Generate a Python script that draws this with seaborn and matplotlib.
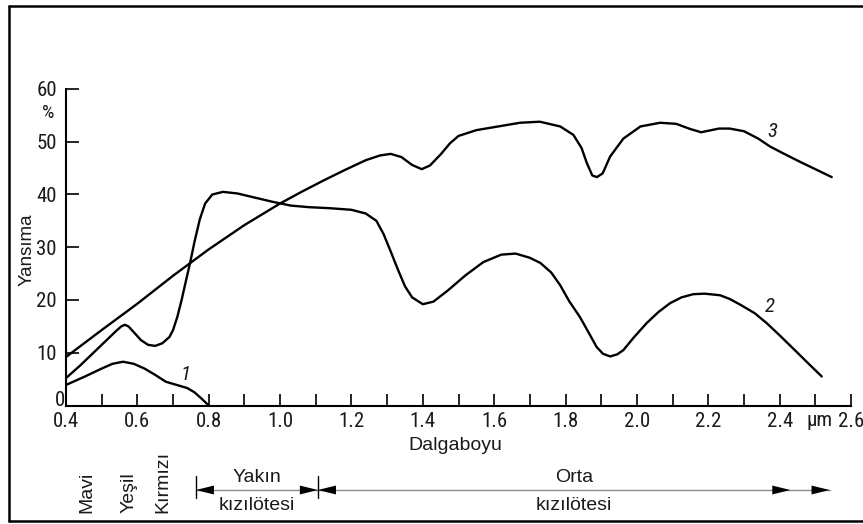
import matplotlib
matplotlib.use("Agg")
import matplotlib.pyplot as plt
import matplotlib.transforms as mtransforms
from matplotlib import font_manager
from matplotlib.font_manager import FontProperties
from matplotlib.lines import Line2D
import seaborn as sns
import pandas as pd

# Spectral reflectance curves (wavelength in µm, reflectance in %)
wl_1 = [0.40, 0.45, 0.50, 0.53, 0.56, 0.59, 0.62, 0.65, 0.68, 0.71, 0.74, 0.76, 0.78, 0.80]
refl_1 = [3.9, 5.4, 7.0, 7.9, 8.3, 7.9, 7.0, 5.8, 4.5, 3.9, 3.3, 2.5, 1.3, 0.0]

wl_2 = [0.40, 0.44, 0.48, 0.52, 0.54, 0.555, 0.565, 0.575, 0.59, 0.61, 0.63, 0.65,
        0.67, 0.69, 0.70, 0.712, 0.724, 0.736, 0.748, 0.76, 0.775, 0.79, 0.81, 0.84,
        0.88, 0.93, 0.98, 1.03, 1.08, 1.14, 1.20, 1.24, 1.27, 1.29, 1.31, 1.33, 1.35,
        1.37, 1.40, 1.43, 1.47, 1.52, 1.57, 1.62, 1.66, 1.70, 1.73, 1.76, 1.785, 1.81,
        1.84, 1.865, 1.887, 1.905, 1.925, 1.945, 1.962, 1.99, 2.027, 2.06, 2.093,
        2.125, 2.158, 2.19, 2.233, 2.26, 2.29, 2.33, 2.364, 2.40, 2.438, 2.48, 2.518]
refl_2 = [5.2, 7.6, 10.2, 12.8, 14.1, 15.0, 15.3, 15.0, 13.9, 12.4, 11.5, 11.3,
          11.8, 13.0, 14.3, 16.8, 20.0, 23.6, 27.1, 31.0, 35.3, 38.3, 40.0, 40.5,
          40.2, 39.4, 38.6, 37.9, 37.6, 37.4, 37.1, 36.4, 35.0, 32.5, 29.2, 25.8, 22.6,
          20.5, 19.2, 19.7, 21.8, 24.7, 27.2, 28.6, 28.8, 28.0, 27.0, 25.2, 22.8, 19.8,
          16.8, 13.8, 11.1, 9.8, 9.3, 9.7, 10.5, 12.8, 15.6, 17.7, 19.4,
          20.5, 21.1, 21.2, 20.9, 20.2, 19.1, 17.5, 15.6, 13.3, 10.8, 8.0, 5.5]

wl_3 = [0.40, 0.50, 0.60, 0.70, 0.80, 0.90, 1.00, 1.06, 1.12, 1.18, 1.24, 1.28, 1.31,
        1.34, 1.37, 1.397, 1.42, 1.45, 1.476, 1.50, 1.55, 1.62, 1.672, 1.728, 1.785,
        1.822, 1.845, 1.86, 1.875, 1.888, 1.904, 1.925, 1.962, 2.01, 2.065, 2.11,
        2.15, 2.18, 2.23, 2.26, 2.30, 2.34, 2.373, 2.41, 2.457, 2.50, 2.546]
refl_3 = [9.2, 14.3, 19.3, 24.6, 29.6, 34.2, 38.3, 40.5, 42.6, 44.6, 46.5, 47.4, 47.7,
          47.1, 45.6, 44.8, 45.5, 47.6, 49.7, 51.1, 52.2, 53.0, 53.6, 53.8, 52.9,
          51.3, 48.8, 45.9, 43.6, 43.3, 44.0, 47.2, 50.6, 52.9, 53.6, 53.4,
          52.4, 51.8, 52.5, 52.5, 52.0, 50.6, 49.1, 47.8, 46.2, 44.8, 43.3]

curve_names = ["1", "2", "3"]
curve_label_pos = [(0.735, 5.9), (2.373, 18.7), (2.38, 51.9)]

x_major = [0.4, 0.6, 0.8, 1.0, 1.2, 1.4, 1.6, 1.8, 2.0, 2.2, 2.4, 2.6]
x_major_labels = ["0.4", "0.6", "0.8", "1.0", "1.2", "1.4", "1.6", "1.8", "2.0", "2.2", "2.4", "2.6"]
x_minor = [0.5, 0.7, 0.9, 1.1, 1.3, 1.5, 1.7, 1.9, 2.1, 2.3, 2.5]
y_major = [10, 20, 30, 40, 50, 60]
y_major_labels = ["10", "20", "30", "40", "50", "60"]

colour_bands = ["Mavi", "Yeşil", "Kırmızı"]
colour_band_x = [0.459, 0.577, 0.672]
ir_bands = [("Yakın", "kızılötesi"), ("Orta", "kızılötesi")]
ir_band_edges = [(0.764, 1.106), (1.106, 2.54)]

df = pd.concat([
    pd.DataFrame({"Dalgaboyu": wl_1, "Yansıma": refl_1, "curve": "1"}),
    pd.DataFrame({"Dalgaboyu": wl_2, "Yansıma": refl_2, "curve": "2"}),
    pd.DataFrame({"Dalgaboyu": wl_3, "Yansıma": refl_3, "curve": "3"}),
])

sns.set_theme(style="white")
plain = ["Liberation Sans", "DejaVu Sans"]
plt.rcParams["font.family"] = plain
ink = "#1a1a1a"


def condensed_face(italic=False):
    """Return the file of an installed condensed sans face, or None."""
    prefs = ["Liberation Sans Narrow", "Arial Narrow", "Roboto Condensed",
             "Noto Sans", "Open Sans", "DejaVu Sans", "Roboto", "Lato", "Inter"]
    cands = []
    for f in font_manager.fontManager.ttflist:
        low = f.fname.lower()
        narrowish = (f.stretch in ("condensed", "semi-condensed")
                     or "condensed" in low or "narrow" in low)
        if not narrowish or f.weight not in (400, "normal", "regular"):
            continue
        if (f.style == "italic") != italic:
            continue
        if "mono" in low or "serif" in low.replace("sans", ""):
            continue
        rank = prefs.index(f.name) if f.name in prefs else len(prefs)
        cands.append((rank, "semi" in low, f.fname))
    if not cands:
        return None
    cands.sort()
    return cands[0][2]


def num_props(size, italic=False):
    path = condensed_face(italic) or condensed_face(False)
    if path:
        return FontProperties(fname=path, size=size)
    return FontProperties(family="Liberation Sans", size=size - 2.5,
                          style="italic" if italic else "normal")


num_font = num_props(15)
num_font_it = num_props(15, italic=True)

W, H = 863, 524
fig = plt.figure(figsize=(W / 100, H / 100), dpi=100)
fig.patch.set_facecolor("white")
ax = fig.add_axes([66 / W, 1 - 405.5 / H, (851 - 66) / W, (405.5 - 89) / H])
ax.set_facecolor("white")

for name in curve_names:
    sns.lineplot(data=df[df["curve"] == name], x="Dalgaboyu", y="Yansıma",
                 sort=False, estimator=None, color="black", lw=1.7, ax=ax,
                 legend=False)

ax.set_xlim(0.4, 2.6)
ax.set_ylim(0, 60)
ax.set_xlabel("")
ax.set_ylabel("")

for s in ["top", "right"]:
    ax.spines[s].set_visible(False)
for s in ["left", "bottom"]:
    ax.spines[s].set_color("black")
    ax.spines[s].set_linewidth(1.5)

ax.set_xticks(x_major)
ax.set_xticklabels(x_major_labels, fontproperties=num_font, color=ink)
ax.set_xticks(x_minor, minor=True)
ax.set_yticks(y_major)
ax.set_yticklabels(y_major_labels, fontproperties=num_font, color=ink)
ax.tick_params(axis="both", which="both", direction="in", length=9, width=1.2,
               color="black")
ax.tick_params(axis="x", which="both", pad=5.0, bottom=True)
ax.tick_params(axis="y", which="both", pad=6.5, left=True)

# curve numbers
for name, (lx, ly) in zip(curve_names, curve_label_pos):
    ax.text(lx, ly, name, fontproperties=num_font_it, ha="center", va="center",
            color=ink)


def fx(p):
    return p / W


def fy(p):
    return 1 - p / H


bt = mtransforms.blended_transform_factory(ax.transData, fig.transFigure)

# origin, units and axis titles
fig.text(fx(60), fy(400), "0", fontproperties=num_font, ha="center",
         va="center", color=ink)
fig.text(fx(48), fy(113), "%", fontproperties=num_props(14), ha="center",
         va="center", color=ink)
ax.text(2.513, fy(421), "µm", transform=bt, fontproperties=num_font,
        ha="center", va="center", color=ink)
fig.text(fx(27), fy(250), "Yansıma", rotation=90, fontsize=13.5, ha="center",
         va="center", color=ink)
fig.text(fx(455), fy(446), "Dalgaboyu", fontsize=14, ha="center", va="center",
         color=ink)

# spectral band annotations below the axis
for name, bx in zip(colour_bands, colour_band_x):
    ax.text(bx, fy(513), name, transform=bt, rotation=90, fontsize=14,
            ha="center", va="bottom", color=ink, clip_on=False)

arrow_y = fy(490)
head = dict(arrowstyle="-|>,head_length=0.65,head_width=0.16", color="black",
            lw=0, mutation_scale=20, shrinkA=0, shrinkB=0)


def arrowhead(x_tip, x_from):
    ax.annotate("", xy=(x_tip, arrow_y), xytext=(x_from, arrow_y), xycoords=bt,
                textcoords=bt, arrowprops=head, annotation_clip=False)


for (title, sub), (x0, x1) in zip(ir_bands, ir_band_edges):
    ax.plot([x0, x1], [arrow_y, arrow_y], transform=bt, color="#8a8a8a",
            lw=1.0, clip_on=False)
    arrowhead(x0, x0 + 0.05)
    arrowhead(x1, x1 - 0.05)
    xm = (x0 + x1) / 2
    ax.text(xm, fy(477), title, transform=bt, fontsize=14, ha="center",
            va="center", color=ink, clip_on=False)
    ax.text(xm, fy(506), sub, transform=bt, fontsize=14, ha="center",
            va="center", color=ink, clip_on=False)

# extra head on the far end of the mid-infrared arrow
arrowhead(2.43, 2.38)

# end bars of the near-infrared range
for xb in ir_band_edges[0]:
    ax.plot([xb, xb], [fy(476), fy(498)], transform=bt, color="black", lw=1.0,
            clip_on=False)

# frame around the drawing
for (x0, y0, x1, y1) in [(9, 6, 863, 6), (9, 6, 9, 521), (9, 521, 863, 521)]:
    fig.add_artist(Line2D([fx(x0), fx(x1)], [fy(y0), fy(y1)], color="black",
                          lw=1.8, transform=fig.transFigure))

fig.savefig("out.png", dpi=100, facecolor="white")
